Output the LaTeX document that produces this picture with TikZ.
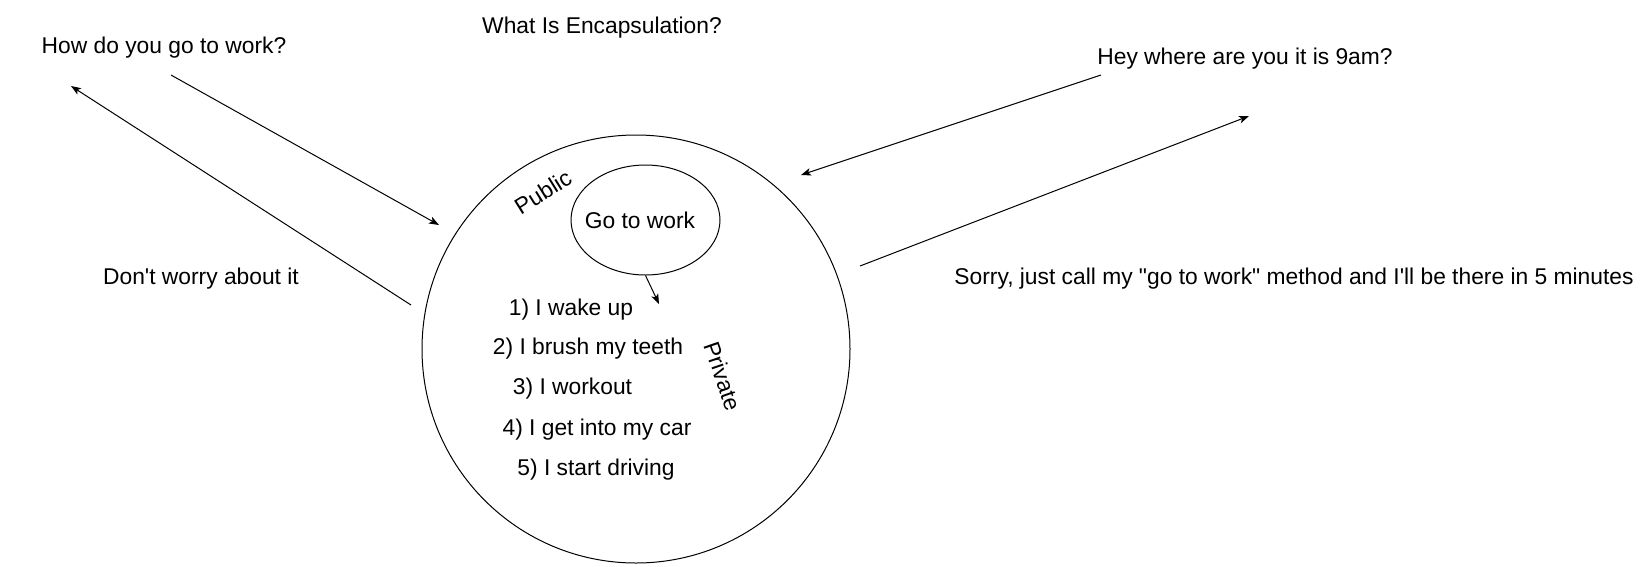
\documentclass[tikz,border=0pt]{standalone}
\usepackage{fontspec}
\setmainfont{Liberation Sans}[Ligatures=TeXOff]
\usetikzlibrary{arrows.meta,shapes.geometric}
\begin{document}
\begin{tikzpicture}[x=1pt,y=-1pt,
  font=\fontsize{22.8}{27}\selectfont,
  lbl/.style={inner sep=0pt, anchor=base},
  rlbl/.style={inner sep=0pt, anchor=center},
  shapeline/.style={draw=black, line width=1pt},
  conn/.style={draw=black, line width=1pt, -{Stealth[length=10pt,width=7.5pt,inset=2.5pt]}},
]
\useasboundingbox[fill=white] (0,0) rectangle (1651,566);

% shapes
\node[shapeline, circle, inner sep=0pt, minimum size=428pt] (outer) at (636,349) {};
\node[shapeline, ellipse, inner sep=0pt, minimum width=149pt, minimum height=110pt] (gtw) at (645.5,220) {};

% texts
\node[lbl] (title) at (602,33) {What Is Encapsulation?};
\node[lbl] (how) at (164,53) {How do you go to work?};
\node[lbl] (dont) at (201,284) {Don't worry about it};
\node[lbl] (hey) at (1245,64) {Hey where are you it is 9am?};
\node[lbl] (sorry) at (1294,284) {Sorry, just call my "go to work" method and I'll be there in 5 minutes};
\node[lbl] (gtwl) at (640,228) {Go to work};
\node[rlbl, rotate=32] (pub) at (543,192) {Public};
\node[rlbl, rotate=-71] (priv) at (723,376) {Private};
\node[lbl] (s1) at (571,315) {1) I wake up};
\node[lbl] (s2) at (588,354) {2) I brush my teeth};
\node[lbl] (s3) at (572.5,394) {3) I workout};
\node[lbl] (s4) at (597,435) {4) I get into my car};
\node[lbl] (s5) at (596,475) {5) I start driving};

% connector end points
\coordinate (a1s) at (171,75);
\coordinate (a1e) at (439,225);
\coordinate (a2s) at (411,305);
\coordinate (a2e) at (71,86);
\coordinate (a3s) at (1101,75);
\coordinate (a3e) at (801,175);
\coordinate (a4s) at (860,266);
\coordinate (a4e) at (1249,116);
\coordinate (a5e) at (659,304);

% connectors
\draw[conn] (a1s) -- (a1e);
\draw[conn] (a2s) -- (a2e);
\draw[conn] (a3s) -- (a3e);
\draw[conn] (a4s) -- (a4e);
\draw[conn] (gtw.south) -- (a5e);
\end{tikzpicture}
\end{document}
